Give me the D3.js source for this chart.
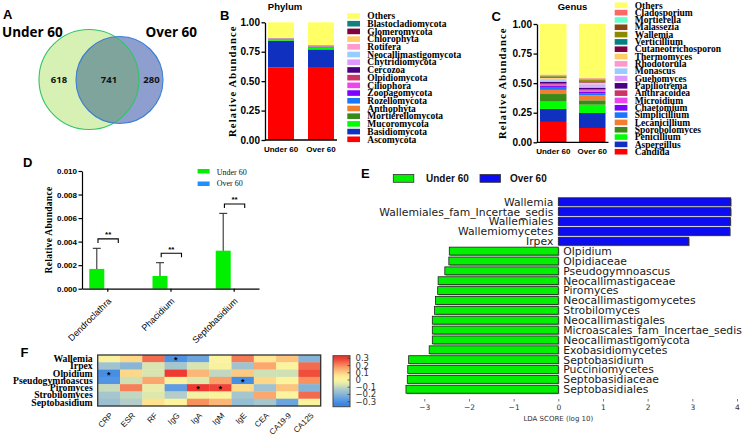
<!DOCTYPE html>
<html><head><meta charset="utf-8">
<script src="https://cdn.jsdelivr.net/npm/d3@7"></script>
<style>body{margin:0;background:#fff}svg{display:block}</style>
</head><body><svg id="c" width="746" height="435"></svg>
<script>
// ---------------- DATA ----------------
const groups = ["Under 60", "Over 60"];
const vennCounts = [618, 741, 280];

const phylumNames = ["Others","Blastocladiomycota","Glomeromycota","Chlorophyta","Rotifera","Neocallimastigomycota","Chytridiomycota","Cercozoa","Olpidiomycota","Ciliophora","Zoopagomycota","Rozellomycota","Anthophyta","Mortierellomycota","Mucoromycota","Basidiomycota","Ascomycota"];
const phylumColors = ["#ffff66","#128080","#800040","#ffcc66","#ff99cc","#99ccff","#dd99ff","#4b0082","#cc3366","#ee44ee","#8000ff","#1a75ff","#f08030","#3a8a1a","#00ff00","#1030c0","#ff0000"];
const phylumUnder = [0.133,0.001,0.001,0.001,0.001,0.001,0.001,0.001,0.001,0.001,0.001,0.002,0.002,0.006,0.006,0.226,0.615];
const phylumOver  = [0.193,0.001,0.001,0.002,0.001,0.001,0.001,0.001,0.001,0.001,0.001,0.002,0.004,0.006,0.014,0.150,0.620];

const genusNames = ["Others","Cladosporium","Mortierella","Malassezia","Wallemia","Verticillium","Cutaneotrichosporon","Thermomyces","Rhodotorula","Monascus","Guehomyces","Papiliotrema","Anthracoidea","Microidium","Chaetomium","Simplicillium","Lecanicillium","Sporobolomyces","Penicillium","Aspergillus","Candida"];
const genusColors = ["#ffff66","#ff6666","#66ffcc","#8b4513","#8b8b00","#008080","#800040","#ffcc66","#ff99cc","#99ccff","#dd99ff","#4b0082","#cc3366","#ee44ee","#8000ff","#1a75ff","#f08030","#3a8a1a","#00ff00","#1030c0","#ff0000"];
const genusUnder = [0.428,0.004,0.004,0.004,0.005,0.005,0.005,0.008,0.006,0.010,0.010,0.015,0.008,0.008,0.012,0.025,0.035,0.064,0.062,0.110,0.172];
const genusOver  = [0.458,0.005,0.005,0.005,0.008,0.006,0.008,0.008,0.008,0.015,0.015,0.012,0.008,0.012,0.012,0.018,0.042,0.037,0.070,0.127,0.121];

const dGenera = ["Dendroclathra","Phacidium","Septobasidium"];
const dUnderMean = [0.00168, 0.00108, 0.00323];
const dUnderSD   = [0.00175, 0.00113, 0.00317];
const dOverMean  = [0, 0, 0];
const dSig = ["**","**","**"];
const dTicks = [0, 0.002, 0.004, 0.006, 0.008, 0.010];

const ldaNames = ["Wallemia","Wallemiales_fam_Incertae_sedis","Wallemiales","Wallemiomycetes","Irpex","Olpidium","Olpidiaceae","Pseudogymnoascus","Neocallimastigaceae","Piromyces","Neocallimastigomycetes","Strobilomyces","Neocallimastigales","Microascales_fam_Incertae_sedis","Neocallimastigomycota","Exobasidiomycetes","Septobasidium","Pucciniomycetes","Septobasidiaceae","Septobasidiales"];
const ldaScores = [3.86,3.86,3.85,3.84,2.92,-2.44,-2.45,-2.54,-2.69,-2.70,-2.75,-2.77,-2.82,-2.82,-2.82,-2.89,-3.35,-3.37,-3.38,-3.41];
const ldaTicks = [-3,-2,-1,0,1,2,3,4];

const heatRows = ["Wallemia","Irpex","Olpidium","Pseudogymnoascus","Piromyces","Strobilomyces","Septobasidium"];
const heatCols = ["CRP","ESR","RF","IgG","IgA","IgM","IgE","CEA","CA19-9","CA125"];
const heatValues = [
  [0.02, 0.10, 0.25, -0.27, -0.22, 0.03, 0.23, 0.07, 0.13, -0.18],
  [-0.13, -0.17, -0.05, -0.12, -0.05, 0.02, -0.13, 0.17, 0.03, 0.25],
  [-0.28, 0.10, -0.05, 0.30, 0.15, -0.08, 0.12, -0.06, -0.06, 0.28],
  [-0.26, -0.06, 0.17, 0.02, -0.04, 0.18, -0.28, 0.10, 0.03, 0.20],
  [-0.07, 0.22, -0.02, -0.24, 0.30, 0.29, 0.09, -0.13, 0.13, -0.18],
  [-0.12, -0.08, -0.04, -0.10, 0.00, 0.03, -0.12, 0.17, 0.03, 0.25],
  [-0.14, -0.10, 0.08, 0.04, 0.20, 0.15, -0.15, -0.12, -0.22, 0.04]
];
const heatStars = [[0,3],[2,0],[3,6],[4,4],[4,5]];
const cbTicks = [0.3,0.2,0.1,0,-0.1,-0.2,-0.3];

// ---------------- SETUP ----------------
const SANS = "'Liberation Sans', Arial, sans-serif";
const SERIF = "'Liberation Serif', 'Times New Roman', serif";
const DJV = "'DejaVu Sans', sans-serif";
const OPEN = "'Open Sans', sans-serif";
const svg = d3.select("#c");
svg.append("rect").attr("width",746).attr("height",435).attr("fill","#fff");
const defs = svg.append("defs");

function styleAxis(g, font, size, weight, sw) {
  g.selectAll("path").attr("stroke","#000").attr("stroke-width",sw);
  g.selectAll("line").attr("stroke","#000").attr("stroke-width",sw);
  g.selectAll("text").attr("font-family",font).attr("font-size",size).attr("font-weight",weight).attr("fill","#000");
}

// Panel letters
[["A",3,19.3],["B",220,20],["C",491.5,20.7],["D",23,166.7],["E",361,177.5],["F",20.5,357]].forEach(([t,x,y])=>{
  svg.append("text").attr("x",x).attr("y",y).text(t)
    .attr("font-family",SANS).attr("font-weight","bold").attr("font-size",13).attr("fill","#000");
});

// ---------------- A: Venn ----------------
{
  const g = svg.append("g");
  const cU = {x:89, y:79.5, r:50}, cO = {x:119.5, y:80, r:43.5};
  defs.append("clipPath").attr("id","clipO").append("circle").attr("cx",cO.x).attr("cy",cO.y).attr("r",cO.r);
  g.append("circle").attr("cx",cU.x).attr("cy",cU.y).attr("r",cU.r).attr("fill","#d7f1b4");
  g.append("circle").attr("cx",cO.x).attr("cy",cO.y).attr("r",cO.r).attr("fill","#8e9fcf");
  g.append("circle").attr("cx",cU.x).attr("cy",cU.y).attr("r",cU.r).attr("fill","#7fa49b").attr("clip-path","url(#clipO)");
  g.append("circle").attr("cx",cU.x).attr("cy",cU.y).attr("r",cU.r).attr("fill","none").attr("stroke","#33c26a").attr("stroke-width",1.1);
  g.append("circle").attr("cx",cO.x).attr("cy",cO.y).attr("r",cO.r).attr("fill","none").attr("stroke","#3a7fd4").attr("stroke-width",1.1);
  const xs = [((cU.x-cU.r)+(cO.x-cO.r))/2+1.5, ((cO.x-cO.r)+(cU.x+cU.r))/2+1.5, ((cU.x+cU.r)+(cO.x+cO.r))/2+0.5];
  vennCounts.forEach((v,i)=>{
    g.append("text").attr("x",xs[i]).attr("y",83).attr("text-anchor","middle").text(v)
      .attr("font-family",OPEN).attr("font-weight","bold").attr("font-size",9.5).attr("fill","#111");
  });
  g.append("text").attr("x",2).attr("y",36.7).text(groups[0]).attr("font-family",OPEN).attr("font-weight","bold").attr("font-size",13.5);
  g.append("text").attr("x",145.5).attr("y",36.7).text(groups[1]).attr("font-family",OPEN).attr("font-weight","bold").attr("font-size",13.5);
}

// ---------------- B & C: stacked bars ----------------
function stackedPanel(opt) {
  const g = svg.append("g");
  const y = d3.scaleLinear().domain([0,1]).range([opt.y0, opt.y1]);
  const x = d3.scaleBand().domain(groups).range([opt.xa, opt.xb]).paddingInner(opt.pi).paddingOuter(opt.po);
  const vals = [opt.under, opt.over];
  groups.forEach((grp, gi) => {
    let acc = 0;
    for (let i = opt.names.length - 1; i >= 0; i--) {
      const v = vals[gi][i];
      const top = (i === 0) ? 1 : acc + v;
      g.append("rect").attr("x", x(grp)).attr("width", x.bandwidth())
        .attr("y", y(top)).attr("height", y(acc) - y(top)).attr("fill", opt.colors[i]);
      acc += v;
    }
  });
  const ya = g.append("g").attr("transform",`translate(${opt.xa},0)`)
    .call(d3.axisLeft(y).tickValues([0,0.25,0.5,0.75,1]).tickFormat(d3.format(".2f")).tickSize(3.5).tickPadding(1.5).tickSizeOuter(0));
  styleAxis(ya, SANS, 10, "bold", 1.3);
  const xa = g.append("g").attr("transform",`translate(0,${opt.y0})`)
    .call(d3.axisBottom(x).tickSize(0).tickPadding(6));
  styleAxis(xa, SANS, 8, "bold", 1.3);
  xa.select("path").attr("d", `M${opt.xa},0H${opt.xb}`);
  g.append("text").attr("transform",`translate(${opt.ytx},${(opt.y0+opt.y1)/2}) rotate(-90)`)
    .attr("text-anchor","middle").text("Relative Abundance")
    .attr("font-family",SERIF).attr("font-weight","bold").attr("font-size",10.5).attr("letter-spacing",1.2);
  g.append("text").attr("x",opt.tx).attr("y",10).attr("text-anchor","middle").text(opt.title)
    .attr("font-family",SANS).attr("font-weight","bold").attr("font-size",9.5);
  const ly = d3.scalePoint().domain(opt.names).range([opt.l0, opt.l1]);
  opt.names.forEach((n,i)=>{
    g.append("rect").attr("x",opt.lx).attr("y",ly(n)-2.8).attr("width",12.7).attr("height",5.6).attr("fill",opt.colors[i]);
    g.append("text").attr("x",opt.lx+20).attr("y",ly(n)+3.2).text(n)
      .attr("font-family",SERIF).attr("font-weight","bold").attr("font-size",9.5).attr("fill","#000");
  });
}
stackedPanel({names:phylumNames, colors:phylumColors, under:phylumUnder, over:phylumOver,
  y0:140, y1:22.3, xa:265, xb:337, pi:0.35, po:0.075, ytx:235.5, title:"Phylum", tx:285,
  lx:347.3, l0:16, l1:139.3});
stackedPanel({names:genusNames, colors:genusColors, under:genusUnder, over:genusOver,
  y0:142.3, y1:24, xa:537, xb:608.5, pi:0.32, po:0.077, ytx:506, title:"Genus", tx:572.5,
  lx:614.7, l0:5.3, l1:151.7});

// ---------------- D: bar chart with error bars ----------------
{
  const g = svg.append("g");
  const y = d3.scaleLinear().domain([0,0.010]).range([288.7,171]);
  const x = d3.scalePoint().domain(dGenera).range([82,259]).padding(0.4);
  const bw = 15;
  dGenera.forEach((gn,i)=>{
    const c = x(gn);
    const gx = c - 18;
    g.append("rect").attr("x",gx).attr("width",bw).attr("y",y(dUnderMean[i])).attr("height",y(0)-y(dUnderMean[i])).attr("fill","#00f000");
    g.append("rect").attr("x",gx+bw+1).attr("width",bw).attr("y",y(dOverMean[i])).attr("height",y(0)-y(dOverMean[i])).attr("fill","#1e90ff");
    const ex = gx + bw/2;
    const top = dUnderMean[i] + dUnderSD[i];
    g.append("line").attr("x1",ex).attr("x2",ex).attr("y1",y(dUnderMean[i])).attr("y2",y(top)).attr("stroke","#333").attr("stroke-width",1.1);
    g.append("line").attr("x1",ex-4).attr("x2",ex+4).attr("y1",y(top)).attr("y2",y(top)).attr("stroke","#333").attr("stroke-width",1.1);
    const by = y(top + 0.0008);
    const bx1 = ex + 1.2, bx2 = ex + 21.5;
    g.append("path").attr("d",`M${bx1},${by+4}V${by}H${bx2}V${by+4}`).attr("fill","none").attr("stroke","#000").attr("stroke-width",1.1);
    g.append("text").attr("x",(bx1+bx2)/2).attr("y",by-1.5).attr("text-anchor","middle").text(dSig[i])
      .attr("font-family",SANS).attr("font-weight","bold").attr("font-size",8);
  });
  const ya = g.append("g").attr("transform","translate(82,0)")
    .call(d3.axisLeft(y).tickValues(dTicks).tickFormat(d3.format(".3f")).tickSize(3.5).tickPadding(1.5).tickSizeOuter(0));
  styleAxis(ya, SANS, 8, "bold", 1.2);
  const xa = g.append("g").attr("transform","translate(0,288.7)")
    .call(d3.axisBottom(x).tickSize(3).tickSizeOuter(0));
  styleAxis(xa, SANS, 9, "normal", 1.2);
  xa.selectAll("text").attr("text-anchor","end").attr("dy",null).attr("y",0)
    .attr("transform","translate(4,13) rotate(-45)");
  g.append("text").attr("transform",`translate(51.5,230) rotate(-90)`).attr("text-anchor","middle").text("Relative Abundance")
    .attr("font-family",SERIF).attr("font-weight","bold").attr("font-size",9.5).attr("letter-spacing",0.3);
  // legend
  [[groups[0],"#00f000",169,174.5],[groups[1],"#1e90ff",181.5,186]].forEach(([t,col,ry,ty])=>{
    g.append("rect").attr("x",197.6).attr("y",ry).attr("width",12).attr("height",4.5).attr("fill",col);
    g.append("text").attr("x",216.7).attr("y",ty).text(t).attr("font-family",SERIF).attr("font-size",8).attr("fill","#111");
  });
}

// ---------------- E: LDA ----------------
{
  const g = svg.append("g");
  const x = d3.scaleLinear().domain([0,4]).range([558.3,737]);
  const y = d3.scaleBand().domain(ldaNames).range([196.8,394.2]).paddingInner(0.2).paddingOuter(0.1);
  ldaNames.forEach((n,i)=>{
    const v = ldaScores[i];
    const col = v > 0 ? "#0c0cf2" : "#00f000";
    const x0 = Math.min(x(0), x(v)), w = Math.abs(x(v)-x(0));
    g.append("rect").attr("x",x0+1).attr("y",y(n)+1).attr("width",w).attr("height",y.bandwidth()).attr("fill","#9a9a9a");
    g.append("rect").attr("x",x0).attr("y",y(n)).attr("width",w).attr("height",y.bandwidth()).attr("fill",col).attr("stroke","#222").attr("stroke-width",0.8);
    const t = g.append("text").attr("y",y(n)+y.bandwidth()/2+3.9).text(n)
      .attr("font-family",DJV).attr("font-size",10.8).attr("fill","#1a1a1a");
    if (v > 0) t.attr("x",x(0)-5).attr("text-anchor","end"); else t.attr("x",x(0)+5);
  });
  const xa = g.append("g").attr("transform","translate(0,399)")
    .call(d3.axisBottom(x).tickValues(ldaTicks).tickFormat(d3.format("d")).tickSize(2.5).tickPadding(3));
  xa.select(".domain").remove();
  xa.selectAll("line").attr("stroke","#555").attr("stroke-width",0.8);
  xa.selectAll("text").attr("font-family",DJV).attr("font-size",7.5).attr("fill","#333");
  xa.selectAll("text").text(d => d < 0 ? "\u2212" + Math.abs(d) : d);
  g.append("text").attr("x",x(0)).attr("y",421).attr("text-anchor","middle").text("LDA SCORE (log 10)")
    .attr("font-family",DJV).attr("font-size",7).attr("fill","#333");
  [[groups[0],"#00f000",393.3,426],[groups[1],"#0c0cf2",480,510]].forEach(([t,col,rx,tx])=>{
    g.append("rect").attr("x",rx).attr("y",174.5).attr("width",20.5).attr("height",7.8).attr("fill",col).attr("stroke","#333").attr("stroke-width",0.8);
    g.append("text").attr("x",tx).attr("y",182.3).text(t).attr("font-family",SANS).attr("font-weight","bold").attr("font-size",10).attr("fill","#111");
  });
}

// ---------------- F: heatmap ----------------
{
  const g = svg.append("g");
  const color = d3.scaleLinear()
    .domain([-0.3,-0.2,-0.1,-0.05,0,0.05,0.1,0.15,0.2,0.25,0.3])
    .range(["#3a86e6","#78acdc","#b2cdca","#d8e5b0","#f4f2a2","#fff39a","#fdd888","#fcb676","#f9915f","#f26a50","#ee3a30"])
    .clamp(true);
  const x = d3.scaleBand().domain(heatCols).range([97.7,320.7]);
  const y = d3.scaleBand().domain(heatRows).range([355,406]);
  heatRows.forEach((r,ri)=>{
    heatCols.forEach((c,ci)=>{
      g.append("rect").attr("x",x(c)).attr("y",y(r)).attr("width",x.bandwidth()+0.3).attr("height",y.bandwidth()+0.3)
        .attr("fill",color(heatValues[ri][ci]));
    });
    g.append("text").attr("x",92.7).attr("y",y(r)+y.bandwidth()/2+3.3).attr("text-anchor","end").text(r)
      .attr("font-family",SERIF).attr("font-weight","bold").attr("font-size",9.7).attr("fill","#000");
  });
  heatStars.forEach(([ri,ci])=>{
    g.append("text").attr("x",x(heatCols[ci])+x.bandwidth()/2).attr("y",y(heatRows[ri])+y.bandwidth()/2+4.6)
      .attr("text-anchor","middle").text("*").attr("font-family",SANS).attr("font-weight","bold").attr("font-size",9).attr("fill","#000");
  });
  g.append("rect").attr("x",97.7).attr("y",355).attr("width",223).attr("height",51).attr("fill","none").attr("stroke","#333").attr("stroke-width",1.3);
  heatCols.forEach(c=>{
    g.append("text").attr("transform",`translate(${x(c)+x.bandwidth()/2+4.5},416) rotate(-45)`).attr("text-anchor","end").text(c)
      .attr("font-family",SANS).attr("font-size",8).attr("fill","#111");
  });
  // colorbar
  const cy = d3.scaleLinear().domain([-0.3,0.3]).range([401.7,358.3]);
  const grad = defs.append("linearGradient").attr("id","cbg").attr("x1",0).attr("x2",0).attr("y1",1).attr("y2",0);
  d3.range(0,1.0001,0.05).forEach(t=>{
    const v = -0.34 + t*0.68;
    grad.append("stop").attr("offset",t).attr("stop-color",color(v));
  });
  g.append("rect").attr("x",333).attr("y",355.7).attr("width",17).attr("height",51).attr("fill","url(#cbg)").attr("stroke","#444").attr("stroke-width",1);
  cbTicks.forEach(v=>{
    g.append("line").attr("x1",347.5).attr("x2",350).attr("y1",cy(v)).attr("y2",cy(v)).attr("stroke","#333").attr("stroke-width",0.7);
    g.append("text").attr("x",355.5).attr("y",cy(v)+3).text(v === 0 ? "0" : (v<0 ? "\u2212"+Math.abs(v) : v))
      .attr("font-family",DJV).attr("font-size",8.5).attr("fill","#333");
  });
}
</script></body></html>
